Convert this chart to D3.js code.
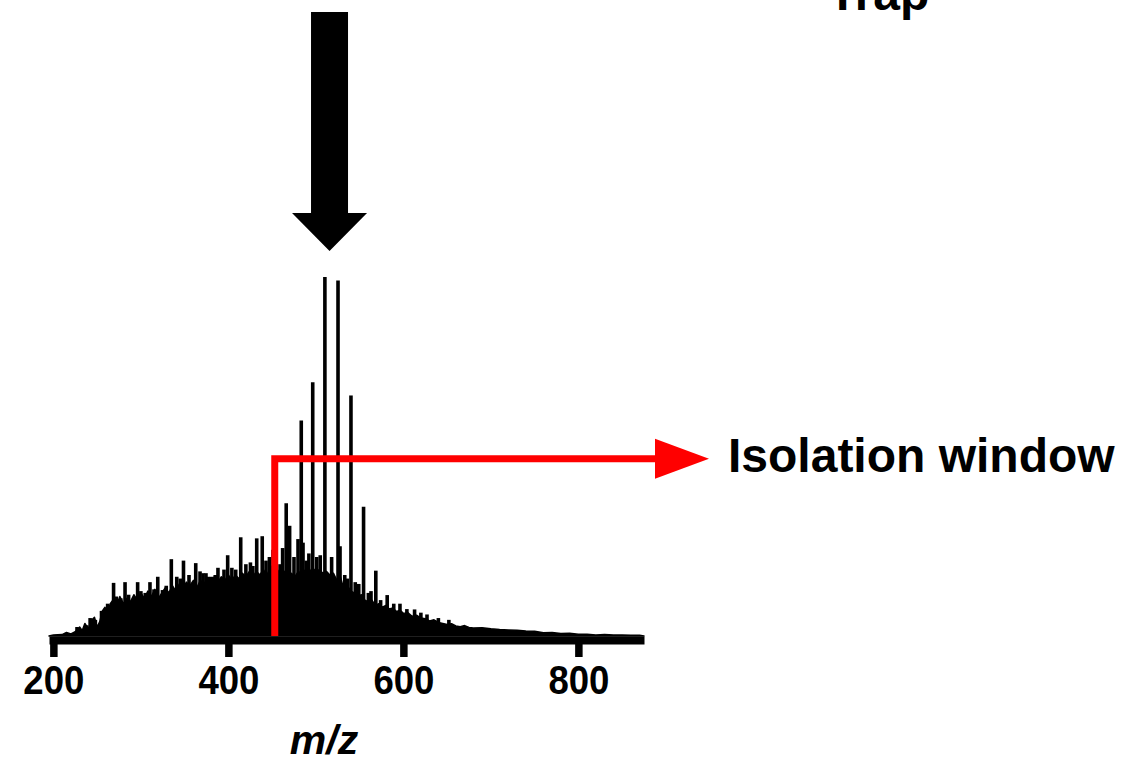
<!DOCTYPE html>
<html>
<head>
<meta charset="utf-8">
<script src="https://cdn.jsdelivr.net/npm/d3@7"></script>
<style>
  html, body { margin: 0; padding: 0; background: #fff; }
  svg { display: block; }
  text { font-family: "Liberation Sans", Arial, Helvetica, sans-serif; font-weight: bold; fill: #000; }
</style>
</head>
<body>
<svg id="chart" width="1128" height="764"></svg>
<script>
// ---------- data ----------
const xTicks = [200, 400, 600, 800];
const xLabel = "m/z";
const isolationLabel = "Isolation window";
const trapLabel = "Trap";

// continuum envelope of the spectrum: m/z and relative intensity (%)
const envMz = [195,200,210,215,220,225,230,233,236,240,244,247,250,253,256,259,262,265,268,272,276,280,284,288,292,296,300,304,308,312,316,320,324,328,332,336,340,344,348,352,356,360,364,368,372,376,380,384,388,392,396,400,404,408,412,416,420,424,428,432,436,440,444,448,452,456,460,464,468,472,476,480,484,488,492,496,500,504,508,512,516,520,524,528,532,536,540,544,548,552,556,560,564,568,572,576,580,584,588,592,596,600,605,610,615,620,625,630,635,640,645,650,655,660,665,670,675,680,690,700,710,720,730,740,750,760,770,780,790,800,810,820,830,840,850,860,870,875];
const envInt = [0,0.3,0.4,1,0.6,1.2,2.5,1.5,3.5,2,4.5,5.2,2.5,4,7,8,6.5,9,10,8.5,11,9,10.5,9.5,11.5,10,12,10.5,12.5,11,13,10.5,12,13.5,12,14,12.5,14.5,13,15,14,15.5,13.5,15.5,14.5,16,15,16.5,15,16.5,15.5,17,15.5,17,16,17.5,16.5,18,16.5,18,17,18.5,17,19,20,18.5,17,18,16.5,17.5,16.5,18,17,18.5,17.5,19,18,18.5,17.5,18,17,17.5,15.5,16.5,13,14,12.5,12,11,11.5,10,9.5,10,8.5,9,8,8.5,7.5,7.8,6.8,7.2,6.3,6.5,5.5,5.8,5,4.8,4.2,4.5,3.8,3.5,3.2,3.4,2.8,2.6,2.9,2.4,2.2,2.3,2.0,1.8,1.7,1.6,1.4,1.3,0.9,1.0,0.7,0.8,0.5,0.5,0.3,0.4,0.3,0.3,0.2,0.2,0];

// centroid peaks rising above the envelope
const peakMz  = [227,238,242,248,255,258,262,268.8,272,277.1,281.9,286,290.5,296.3,300,305,310.4,315,319.3,324.7,329,334.8,341,345,348.7,355,362.7,367.6,371,374.4,377,380.9,385,388.1,395,399.2,404,408.4,414.1,420,425.2,428,432.4,438.7,443,446.9,451,459,462,466.1,470,475,479.6,483.3,485.3,489,492,496.4,501,505,510.3,518,525.3,527.6,533,536,540.1,545,549,554.5,560,563,568.5,574,581.5,589,596.1,604,612.8,620,627,640,652];
const peakInt = [2.5,3,5,4.5,7,6.5,9,14.8,11,10.5,15,11.5,10,15,12.5,12,15,13,16.5,12.8,14,21.4,16.5,16,21,17,20.3,18,17.5,17.5,16.5,16.5,17,19,18.5,22.5,19,18.5,27.5,20,20.5,19.5,27.2,27.8,21,22,24,20,24.5,37,30.7,22,27,60,26,21,23,70.7,22,22.5,100,22,99,25,17,16,67,15,14.5,36,12,12.5,18.2,10,11.4,9,9,7.5,7.4,6.5,6,5,4.5];

// isolation window start (m/z) and the level of the annotation bar (% intensity)
const isolationStart = 453;
const isolationLevel = 49.4;
// precursor targeted by the trap arrow (m/z)
const trapTarget = 515.6;

// ---------- drawing ----------
const svg = d3.select("#chart");
const x = d3.scaleLinear().domain([195, 875]).range([49, 644]);
const y = d3.scaleLinear().domain([0, 100]).range([636, 277]);

const env = envMz.map((m, i) => ({ m, v: envInt[i] }));
svg.append("path")
  .datum(env)
  .attr("d", d3.area().x(d => x(d.m)).y0(y(0)).y1(d => y(d.v)))
  .attr("fill", "#000")
  .attr("stroke", "#000")
  .attr("stroke-width", 1.5)
  .attr("stroke-linejoin", "round");

const peaks = peakMz.map((m, i) => ({ m, v: peakInt[i] }));
svg.append("g").selectAll("line").data(peaks).join("line")
  .attr("x1", d => x(d.m)).attr("x2", d => x(d.m))
  .attr("y1", y(0)).attr("y2", d => y(d.v))
  .attr("stroke", "#000").attr("stroke-width", 3.6);

// x axis
const axis = d3.axisBottom(x).tickValues(xTicks).tickSizeInner(17).tickSizeOuter(0).tickFormat(d3.format("d"));
const gx = svg.append("g").attr("transform", "translate(0,640)").call(axis);
gx.select(".domain").attr("stroke", "#000").attr("stroke-width", 8).attr("stroke-linecap", "butt");
gx.selectAll(".tick line").attr("stroke", "#000").attr("stroke-width", 7.5);
gx.selectAll(".tick text")
  .attr("y", 54).attr("dy", 0)
  .attr("font-size", 40)
  .attr("font-family", "'Liberation Sans', Arial, sans-serif")
  .attr("font-weight", "bold")
  .attr("fill", "#000")
  .attr("textLength", 61)
  .attr("lengthAdjust", "spacingAndGlyphs");

svg.append("text")
  .attr("x", 324).attr("y", 754)
  .attr("text-anchor", "middle")
  .attr("font-size", 41)
  .attr("font-style", "italic")
  .text(xLabel);

// red isolation-window annotation
const redX = x(isolationStart), redY = y(isolationLevel);
svg.append("path")
  .attr("d", `M${redX},${y(0)} V${redY} H660`)
  .attr("fill", "none").attr("stroke", "#ff0000").attr("stroke-width", 7)
  .attr("stroke-linejoin", "miter").attr("stroke-linecap", "butt");
svg.append("path")
  .attr("d", `M655,${redY - 20} L709,${redY} L655,${redY + 20} Z`)
  .attr("fill", "#ff0000");
svg.append("text")
  .attr("x", 728).attr("y", 472)
  .attr("font-size", 48)
  .text(isolationLabel);

// black "Trap" arrow pointing at the precursor
const ax = x(trapTarget);
svg.append("path")
  .attr("d", `M${ax - 18.5},12 H${ax + 18.5} V213 H${ax + 37.5} L${ax},251 L${ax - 37.5},213 H${ax - 18.5} Z`)
  .attr("fill", "#000");
svg.append("text")
  .attr("x", 828).attr("y", 10)
  .attr("font-size", 48)
  .text(trapLabel);
</script>
</body>
</html>
